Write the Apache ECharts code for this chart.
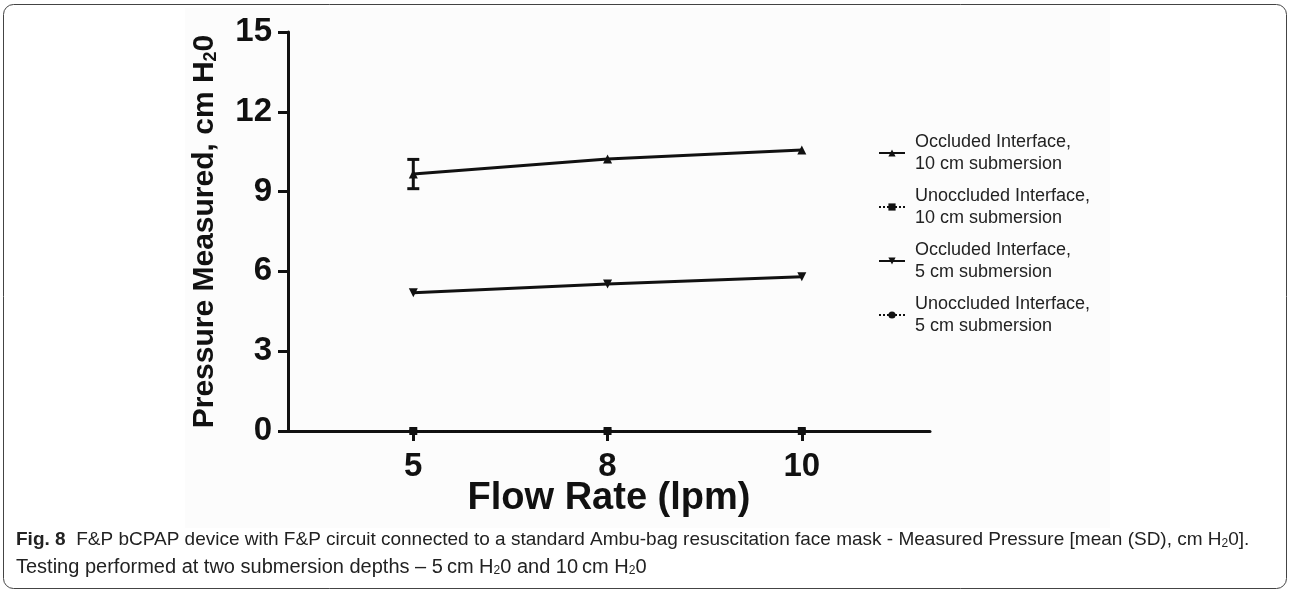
<!DOCTYPE html>
<html>
<head>
<meta charset="utf-8">
<script src="https://cdn.jsdelivr.net/npm/echarts@6/dist/echarts.min.js"></script>
<style>
html,body{margin:0;padding:0;background:#fff;}
#chart{width:1290px;height:591px;}
</style>
</head>
<body>
<div id="chart"></div>
<script>
// ---- data ----
const flowRates = ['5', '8', '10'];
const yTicks = [0, 3, 6, 9, 12, 15];
const occluded10 = [9.66, 10.23, 10.56];
const occluded10SD = [0.55, 0, 0];
const unoccluded10 = [0, 0, 0];
const occluded5 = [5.2, 5.53, 5.8];
const occluded5SD = [0, 0, 0];
const unoccluded5 = [0, 0, 0];
const seriesNames = [
  'Occluded Interface,\n10 cm submersion',
  'Unoccluded Interface,\n10 cm submersion',
  'Occluded Interface,\n5 cm submersion',
  'Unoccluded Interface,\n5 cm submersion'
];

const toPts = arr => arr.map((v, i) => [i, v]);
const errPts = (vals, sds) => vals.map((v, i) => [i, v, sds[i]]);

const chart = echarts.init(document.getElementById('chart'), null, {renderer: 'canvas'});
const font = 'Liberation Sans, Arial, sans-serif';
const black = '#111';
const capFont = 'Liberation Sans, Arial, sans-serif';

function errorRender(params, api) {
  const x = api.value(0), y = api.value(1), sd = api.value(2);
  if (!sd) return null;
  const top = api.coord([x, y + sd]);
  const bot = api.coord([x, y - sd]);
  const hw = 6;
  const style = {stroke: black, lineWidth: 3};
  return {
    type: 'group',
    children: [
      {type: 'line', shape: {x1: top[0], y1: top[1], x2: bot[0], y2: bot[1]}, style},
      {type: 'line', shape: {x1: top[0] - hw, y1: top[1], x2: top[0] + hw, y2: top[1]}, style},
      {type: 'line', shape: {x1: bot[0] - hw, y1: bot[1], x2: bot[0] + hw, y2: bot[1]}, style}
    ]
  };
}

const option = {
  backgroundColor: '#fff',
  animation: false,
  textStyle: {fontFamily: font},
  grid: {left: 288, top: 32, bottom: 160, right: 360, containLabel: false},
  graphic: [
    {type: 'rect', z: -10, shape: {x: 185, y: 8, width: 925, height: 520}, style: {fill: '#fcfcfc'}},
    {type: 'rect', z: 100, shape: {x: 3.5, y: 4.5, width: 1283, height: 584, r: 10}, style: {fill: null, stroke: '#444', lineWidth: 1}},
    {type: 'text', z: 100, left: 16, top: 530, style: {
      text: '{b|Fig. 8}  F&P bCPAP device with F&P circuit connected to a standard Ambu-bag resuscitation face mask - Measured Pressure [mean (SD), cm H{s|2}0].',
      fontFamily: capFont, fontSize: 19, fill: '#222',
      rich: {
        b: {fontWeight: 'bold', fontSize: 19, fontFamily: capFont},
        s: {fontSize: 12, verticalAlign: 'bottom', padding: [8, 0, 0, 0], fontFamily: capFont}
      }
    }},
    {type: 'text', z: 100, left: 16, top: 557, style: {
      text: 'Testing performed at two submersion depths \u2013 5\u2009cm H{s|2}0 and 10\u2009cm H{s|2}0',
      fontFamily: capFont, fontSize: 20, fill: '#222',
      rich: {
        s: {fontSize: 12, verticalAlign: 'bottom', padding: [8, 0, 0, 0], fontFamily: capFont}
      }
    }}
  ],
  legend: {
    orient: 'vertical',
    left: 873,
    top: 126,
    itemWidth: 26,
    itemHeight: 9,
    itemGap: 10,
    textStyle: {fontFamily: font, fontSize: 18, color: '#222', lineHeight: 22, padding: [0, 0, 0, 5]},
    data: seriesNames
  },
  xAxis: {
    type: 'value',
    min: -0.645,
    max: 2.66,
    name: 'Flow Rate (lpm)',
    nameLocation: 'middle',
    nameGap: 49,
    nameMoveOverlap: false,
    nameTextStyle: {fontFamily: font, fontWeight: 'bold', fontSize: 38, color: black},
    axisLine: {show: true, onZero: false, lineStyle: {color: black, width: 3}},
    axisTick: {show: true, length: 10, inside: false, lineStyle: {color: black, width: 3}, customValues: [0, 1, 2]},
    axisLabel: {
      customValues: [0, 1, 2],
      formatter: v => flowRates[Math.round(v)],
      fontFamily: font, fontWeight: 'bold', fontSize: 33, color: black, margin: 19
    },
    splitLine: {show: false}
  },
  yAxis: {
    type: 'value',
    min: 0,
    max: 15,
    interval: 3,
    name: 'Pressure Measured, cm H{s|2}0',
    nameLocation: 'middle',
    nameRotate: 90,
    nameGap: 68,
    nameMoveOverlap: false,
    nameTextStyle: {
      fontFamily: font, fontWeight: 'bold', fontSize: 30, color: black,
      rich: {s: {fontFamily: font, fontWeight: 'bold', fontSize: 18, verticalAlign: 'bottom', padding: [10, 0, 0, 0], color: black}}
    },
    axisLine: {show: true, onZero: false, lineStyle: {color: black, width: 3}},
    axisTick: {show: true, length: 10, lineStyle: {color: black, width: 3}},
    axisLabel: {
      fontFamily: font, fontWeight: 'bold', fontSize: 33, color: black, margin: 16
    },
    splitLine: {show: false}
  },
  series: [
    {
      name: seriesNames[0], type: 'line', data: toPts(occluded10),
      symbol: 'triangle', symbolSize: 9, clip: false,
      lineStyle: {color: black, width: 3}, itemStyle: {color: black}, z: 5
    },
    {
      name: seriesNames[1], type: 'line', data: toPts(unoccluded10),
      symbol: 'rect', symbolSize: 8, clip: false,
      lineStyle: {color: black, width: 2, type: 'dotted'}, itemStyle: {color: black}, z: 5
    },
    {
      name: seriesNames[2], type: 'line', data: toPts(occluded5),
      symbol: 'triangle', symbolRotate: 180, symbolSize: 9, clip: false,
      lineStyle: {color: black, width: 3}, itemStyle: {color: black}, z: 5
    },
    {
      name: seriesNames[3], type: 'line', data: toPts(unoccluded5),
      symbol: 'circle', symbolSize: 8, clip: false,
      lineStyle: {color: black, width: 2, type: 'dotted'}, itemStyle: {color: black}, z: 5
    },
    {
      type: 'custom', name: 'SD occ10', renderItem: errorRender,
      data: errPts(occluded10, occluded10SD), encode: {x: 0, y: 1}, z: 6, clip: false
    },
    {
      type: 'custom', name: 'SD occ5', renderItem: errorRender,
      data: errPts(occluded5, occluded5SD), encode: {x: 0, y: 1}, z: 6, clip: false
    }
  ]
};
chart.setOption(option);
</script>
</body>
</html>
